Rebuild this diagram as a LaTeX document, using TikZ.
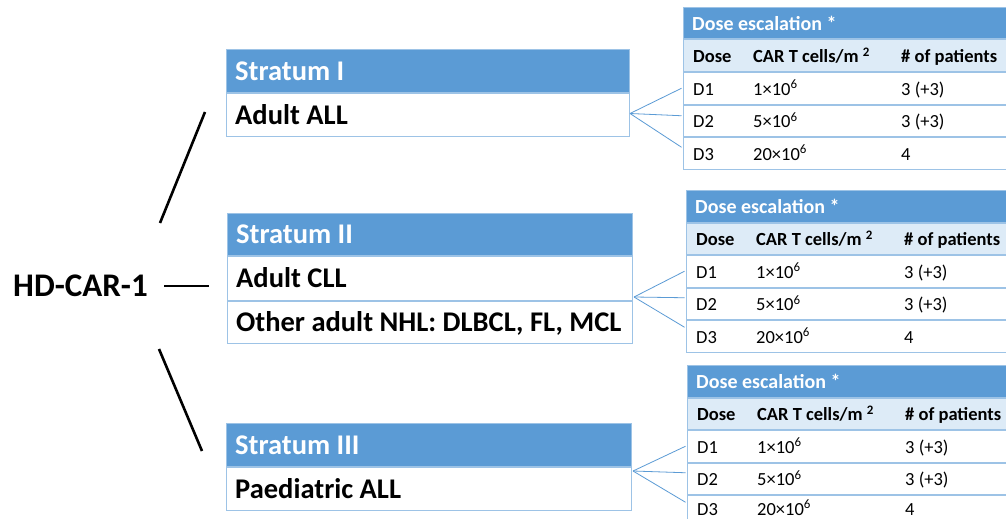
\documentclass[tikz,border=0pt]{standalone}
\usepackage{fontspec}
\setmainfont{Carlito}
\usetikzlibrary{calc}
\definecolor{hblue}{RGB}{91,155,213}
\definecolor{lblue}{RGB}{221,235,247}
\definecolor{bord}{RGB}{157,195,230}
\tikzset{
  sbox/.style={anchor=north west, fill=hblue, draw=bord, line width=1pt, inner sep=0pt},
  swbox/.style={sbox, fill=white},
  stxt/.style={anchor=west, inner sep=0pt, text=white,
    font=\bfseries\fontsize{28.5}{30}\selectfont, text height=18pt, text depth=0pt},
  sbtxt/.style={stxt, text=black},
  trow/.style={anchor=north west, draw=bord, line width=1pt, fill=white,
    minimum width=340pt, minimum height=31.5pt, inner sep=0pt},
  tcell/.style={anchor=west, inner sep=0pt, text height=14pt, text depth=0pt,
    font=\fontsize{18.5}{20}\selectfont},
  tbold/.style={tcell, font=\bfseries\fontsize{18.5}{20}\selectfont},
  ttl/.style={tbold, text=white, font=\bfseries\fontsize{20}{22}\selectfont},
  fan/.style={draw=hblue, line width=0.8pt},
  branch/.style={draw=black, line width=2.6pt},
}
% #1 name, #2 x, #3 y of top, #4 vertical shift of the last row's texts
\newcommand\dosetable[4]{%
  \node[trow, fill=hblue] (#1t) at (#2,#3) {};
  \node[trow, fill=lblue] (#1h) at (#1t.south west) {};
  \node[trow] (#1r1) at (#1h.south west) {};
  \node[trow] (#1r2) at (#1r1.south west) {};
  \node[trow] (#1r3) at (#1r2.south west) {};
  \node[ttl] (#1tt) at ($(#1t.west)+(9,0)$) {Dose escalation *};
  \node[tbold] (#1ha) at ($(#1h.west)+(10,0)$) {Dose};
  \node[tbold] (#1hb) at ($(#1h.west)+(70,0)$) {CAR T cells/m \textsuperscript{2}};
  \node[tbold] (#1hc) at ($(#1h.west)+(218,0)$) {\# of patients};
  \node[tcell] (#1aa) at ($(#1r1.west)+(10,0)$) {D1};
  \node[tcell] (#1ab) at ($(#1r1.west)+(70,0)$) {1×10\textsuperscript{6}};
  \node[tcell] (#1ac) at ($(#1r1.west)+(218,0)$) {3 (+3)};
  \node[tcell] (#1ba) at ($(#1r2.west)+(10,0)$) {D2};
  \node[tcell] (#1bb) at ($(#1r2.west)+(70,0)$) {5×10\textsuperscript{6}};
  \node[tcell] (#1bc) at ($(#1r2.west)+(218,0)$) {3 (+3)};
  \node[tcell] (#1ca) at ($(#1r3.west)+(10,#4)$) {D3};
  \node[tcell] (#1cb) at ($(#1r3.west)+(70,#4)$) {20×10\textsuperscript{6}};
  \node[tcell] (#1cc) at ($(#1r3.west)+(218,#4)$) {4};
}
\begin{document}
\begin{tikzpicture}[x=1pt,y=-1pt]
\useasboundingbox (0,0) rectangle (1006,519);
\clip (0,0) rectangle (1006,519);
\fill[white] (0,0) rectangle (1006,519);

% main label
\node[anchor=west, inner sep=0pt, font=\bfseries\fontsize{33}{36}\selectfont,
  text height=21pt, text depth=0pt] (hd) at (13,286) {HD-CAR-1};

% strata
\node[sbox, minimum width=403pt, minimum height=43pt] (s1h) at (226,49) {};
\node[swbox, minimum width=403pt, minimum height=43pt] (s1b) at (s1h.south west) {};
\node[stxt] (s1ht) at ($(s1h.west)+(9,0)$) {Stratum I};
\node[sbtxt] (s1bt) at ($(s1b.west)+(9,0)$) {Adult ALL};

\node[sbox, minimum width=405pt, minimum height=42pt] (s2h) at (227,213) {};
\node[swbox, minimum width=405pt, minimum height=44pt] (s2b) at (s2h.south west) {};
\node[swbox, minimum width=405pt, minimum height=42pt] (s2c) at (s2b.south west) {};
\node[stxt] (s2ht) at ($(s2h.west)+(9,0)$) {Stratum II};
\node[sbtxt] (s2bt) at ($(s2b.west)+(9,0)$) {Adult CLL};
\node[sbtxt] (s2ct) at ($(s2c.west)+(9,0)$) {Other adult NHL: DLBCL, FL, MCL};

\node[sbox, minimum width=405pt, minimum height=43pt] (s3h) at (226,423) {};
\node[swbox, minimum width=405pt, minimum height=43pt] (s3b) at (s3h.south west) {};
\node[stxt] (s3ht) at ($(s3h.west)+(9,0)$) {Stratum III};
\node[sbtxt] (s3bt) at ($(s3b.west)+(9,0)$) {Paediatric ALL};

% branches
\coordinate (b1a) at (160,223); \coordinate (b1b) at (205,112);
\coordinate (b2a) at (164,286); \coordinate (b2b) at (209,286);
\coordinate (b3a) at (159,349); \coordinate (b3b) at (202,451);
\draw[branch] (b1a) -- (b1b);
\draw[branch] (b2a) -- (b2b);
\draw[branch] (b3a) -- (b3b);

% tables
\dosetable{ta}{683}{7}{0}
\dosetable{tb}{686}{190}{0}
\dosetable{tc}{687}{365}{-3}

% fans
\coordinate (fa) at ($(s1b.east)+(0,-1.5)$);
\coordinate (fb) at ($(s2c.north east)+(1,-4)$);
\coordinate (fc) at ($(s3b.north east)+(1,4)$);
\draw[fan] (fa) -- ($(tar1.west)+(-1.5,0)$);
\draw[fan] (fa) -- ($(tar2.west)+(-1.5,-5)$);
\draw[fan] (fa) -- ($(tar3.west)+(-1.5,-6)$);
\draw[fan] (fb) -- ($(tbr1.west)+(-1.5,0)$);
\draw[fan] (fb) -- ($(tbr2.west)+(-1.5,-6)$);
\draw[fan] (fb) -- ($(tbr3.west)+(-1.5,-9)$);
\draw[fan] (fc) -- ($(tcr1.west)+(-1.5,0)$);
\draw[fan] (fc) -- ($(tcr2.west)+(-1.5,-6)$);
\draw[fan] (fc) -- ($(tcr3.west)+(-1.5,-9)$);
\end{tikzpicture}
\end{document}
